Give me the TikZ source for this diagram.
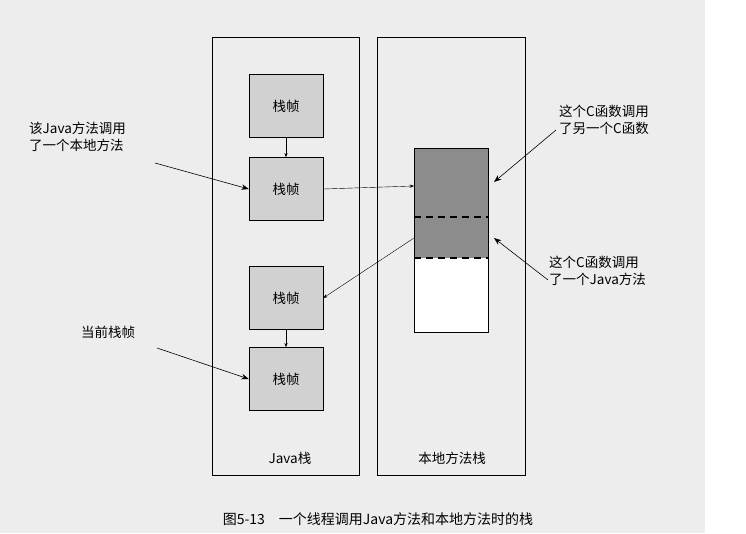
\documentclass[tikz,border=0pt]{standalone}
\usepackage{fontspec}
\newfontfamily\cjk{Noto Sans CJK SC}
\usetikzlibrary{arrows.meta}
\definecolor{paper}{gray}{0.93}
\definecolor{frame}{gray}{0.82}
\definecolor{cfill}{gray}{0.55}
\begin{document}
\begin{tikzpicture}[x=1pt,y=-1pt,>={Stealth[scale=.9]},
  font=\cjk\fontsize{13.5}{17}\selectfont,
  stackbox/.style={draw,thin},
  framebox/.style={draw,fill=frame,minimum width=74pt,minimum height=63pt,inner sep=0pt},
  note/.style={align=left,inner sep=1pt},
  callout/.style={->,semithick,>={Stealth[scale=1.3]}}]
  \fill[paper] (0,0) rectangle (705,533);
  \useasboundingbox (0,0) rectangle (746,533);
  % Stacks
  \draw[stackbox] (212,37) rectangle (359,475);
  \draw[stackbox] (377,37) rectangle (525,475);
  \node (jlabel) at (290,458) {Java栈};
  \node (nlabel) at (452,458) {本地方法栈};
  % Java frames
  \node[framebox] (f1) at (286,106) {栈帧};
  \node[framebox] (f2) at (286,189) {栈帧};
  \node[framebox] (f3) at (286,298) {栈帧};
  \node[framebox] (f4) at (286,379) {栈帧};
  \draw[->,thin] (f1) -- (f2);
  \draw[->,thin] (f3) -- (f4);
  % native stack
  \draw[fill=white] (414,148) rectangle (488,332);
  \fill[cfill] (414,148) rectangle (488,258);
  \draw (414,148) rectangle (488,332);
  \draw[very thick,dash pattern=on 7pt off 5pt] (414,217) -- (488,217);
  \draw[very thick,dash pattern=on 7pt off 5pt] (414,258) -- (488,258);
  \coordinate (cin) at (414,186);
  \coordinate (cout) at (414,238);
  \coordinate (c1) at (494,182);
  \coordinate (c2) at (494,238);
  \draw[->,thin] (f2.east) -- (cin);
  \draw[->,thin] (cout) -- (f3.east);
  % notes
  \node[note,anchor=north west] (n1) at (28,121) {该Java方法调用\\了一个本地方法};
  \node[note,anchor=north west] (n2) at (80,325) {当前栈帧};
  \node[note,anchor=north west] (n3) at (558,104) {这个C函数调用\\了另一个C函数};
  \node[note,anchor=north west] (n4) at (548,255) {这个C函数调用\\了一个Java方法};
  \coordinate (s1) at (155,163);
  \coordinate (s2) at (157,348);
  \coordinate (s3) at (556,130);
  \coordinate (s4) at (548,280);
  \draw[callout] (s1) -- (f2.west);
  \draw[callout] (s2) -- (f4.west);
  \draw[callout] (s3) -- (c1);
  \draw[callout] (s4) -- (c2);
  % caption
  \node[font=\cjk\fontsize{14}{17}\selectfont] (cap) at (378,519) {图5-13\quad 一个线程调用Java方法和本地方法时的栈};
\end{tikzpicture}
\end{document}
